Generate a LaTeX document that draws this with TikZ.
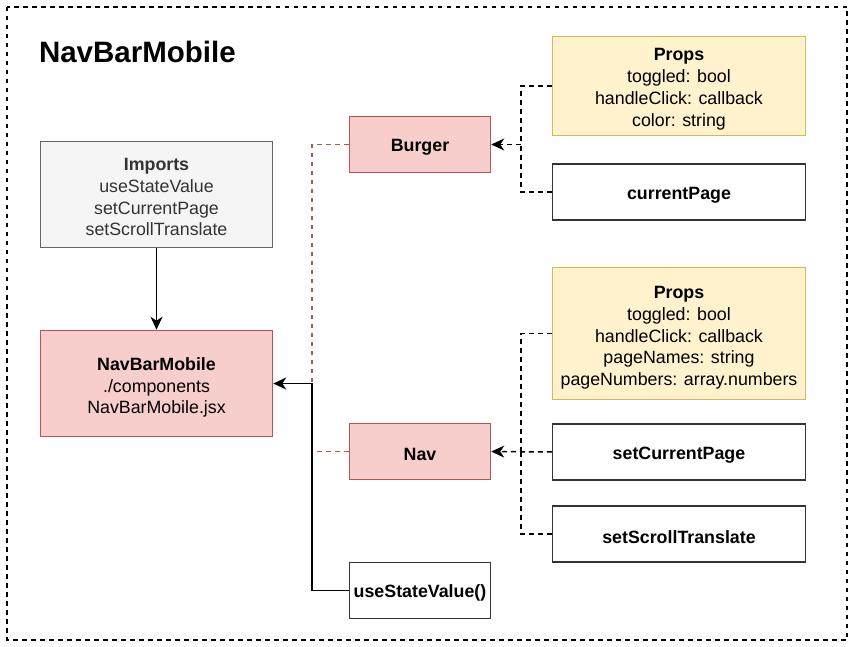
\documentclass[tikz,border=0pt]{standalone}
\usepackage{fontspec}
\setmainfont{Liberation Sans}
\usetikzlibrary{arrows.meta}
\definecolor{pinkfill}{HTML}{F8CECC}
\definecolor{pinkline}{HTML}{B85450}
\definecolor{yelfill}{HTML}{FFF2CC}
\definecolor{yelline}{HTML}{D6B656}
\definecolor{grayfill}{HTML}{F5F5F5}
\definecolor{grayline}{HTML}{666666}
\definecolor{graytext}{HTML}{333333}
\definecolor{darkline}{HTML}{333333}
\newcommand{\toplift}[1]{\rule{0pt}{#1pt}}
\tikzset{
  box/.style={draw, line width=1.5pt, inner sep=0pt, align=center,
    font=\fontsize{17.8}{21.8}\selectfont},
  onebox/.style={execute at begin node={\rule{0pt}{18.5pt}}},
  pinkbox/.style={box, fill=pinkfill, draw=pinkline},
  yelbox/.style={box, fill=yelfill, draw=yelline},
  graybox/.style={box, fill=grayfill, draw=grayline, text=graytext},
  whitebox/.style={box, fill=white, draw=darkline},
  conn/.style={line width=1.5pt, -{Stealth[length=13pt,width=12pt,inset=4pt]}},
  dconn/.style={conn, dash pattern=on 5pt off 4pt},
  dline/.style={line width=1.5pt, dash pattern=on 5pt off 4pt},
  redline/.style={line width=1.1pt, draw=pinkline, dash pattern=on 4.5pt off 4.5pt},
}
\begin{document}
\begin{tikzpicture}[x=1pt,y=-1pt]
\useasboundingbox (0,0) rectangle (852,647);
\draw[line width=1.1pt, dash pattern=on 4.5pt off 4.5pt] (7,7) rectangle (847,640);
\node[anchor=west, font=\fontsize{29.5}{34}\selectfont\bfseries] (title) at (35.5,51.5) {NavBarMobile};

\node[graybox, minimum width=232pt, minimum height=106pt] (imports) at (156.5,194.5)
  {\toplift{17.5}\textbf{Imports}\\useStateValue\\setCurrentPage\\setScrollTranslate};
\node[pinkbox, minimum width=232pt, minimum height=106pt] (main) at (156.5,383.5)
  {\toplift{21}\textbf{NavBarMobile}\\./components\\NavBarMobile.jsx};

\node[pinkbox, onebox, minimum width=141pt, minimum height=56pt] (burger) at (420,144.5) {\textbf{Burger}};
\node[pinkbox, onebox, minimum width=141pt, minimum height=56pt] (nav) at (420,451.5) {\textbf{Nav}};
\node[whitebox, onebox, minimum width=141pt, minimum height=56pt] (use) at (420,590.5) {\textbf{useStateValue()}};

\node[yelbox, minimum width=253pt, minimum height=99pt] (props1) at (679,86)
  {\toplift{19}\textbf{Props}\\toggled: bool\\handleClick: callback\\color: string};
\node[whitebox, onebox, minimum width=253pt, minimum height=56pt] (cur) at (679,192) {\textbf{currentPage}};
\node[yelbox, minimum width=253pt, minimum height=132pt] (props2) at (679,333.5)
  {\toplift{21}\textbf{Props}\\toggled: bool\\handleClick: callback\\pageNames: string\\pageNumbers: array.numbers};
\node[whitebox, onebox, minimum width=253pt, minimum height=56pt] (setcur) at (679,452) {\textbf{setCurrentPage}};
\node[whitebox, onebox, minimum width=253pt, minimum height=56pt] (setscroll) at (679,534) {\textbf{setScrollTranslate}};

\coordinate (jx) at (312,0);
\coordinate (rx) at (521,0);

% red dashed links
\draw[redline] (burger.west) -| (jx |- main.east);
\draw[redline] (nav.west) -| (jx |- main.east);

% imports to main
\draw[conn] (imports.south) -- (main.north);
% useStateValue to main
\draw[conn] (use.west) -| (jx |- main.east) -- (main.east);

% props to burger
\draw[dline] (props1.west) -| (rx |- burger.east);
\draw[dline] (cur.west) -| (rx |- burger.east);
\draw[dconn] (rx |- burger.east) -- (burger.east);

% props to nav
\draw[dline] (props2.west) -| (rx |- nav.east);
\draw[dline] (setscroll.west) -| (rx |- nav.east);
\draw[dconn] (setcur.west) -- (nav.east);
\end{tikzpicture}
\end{document}
